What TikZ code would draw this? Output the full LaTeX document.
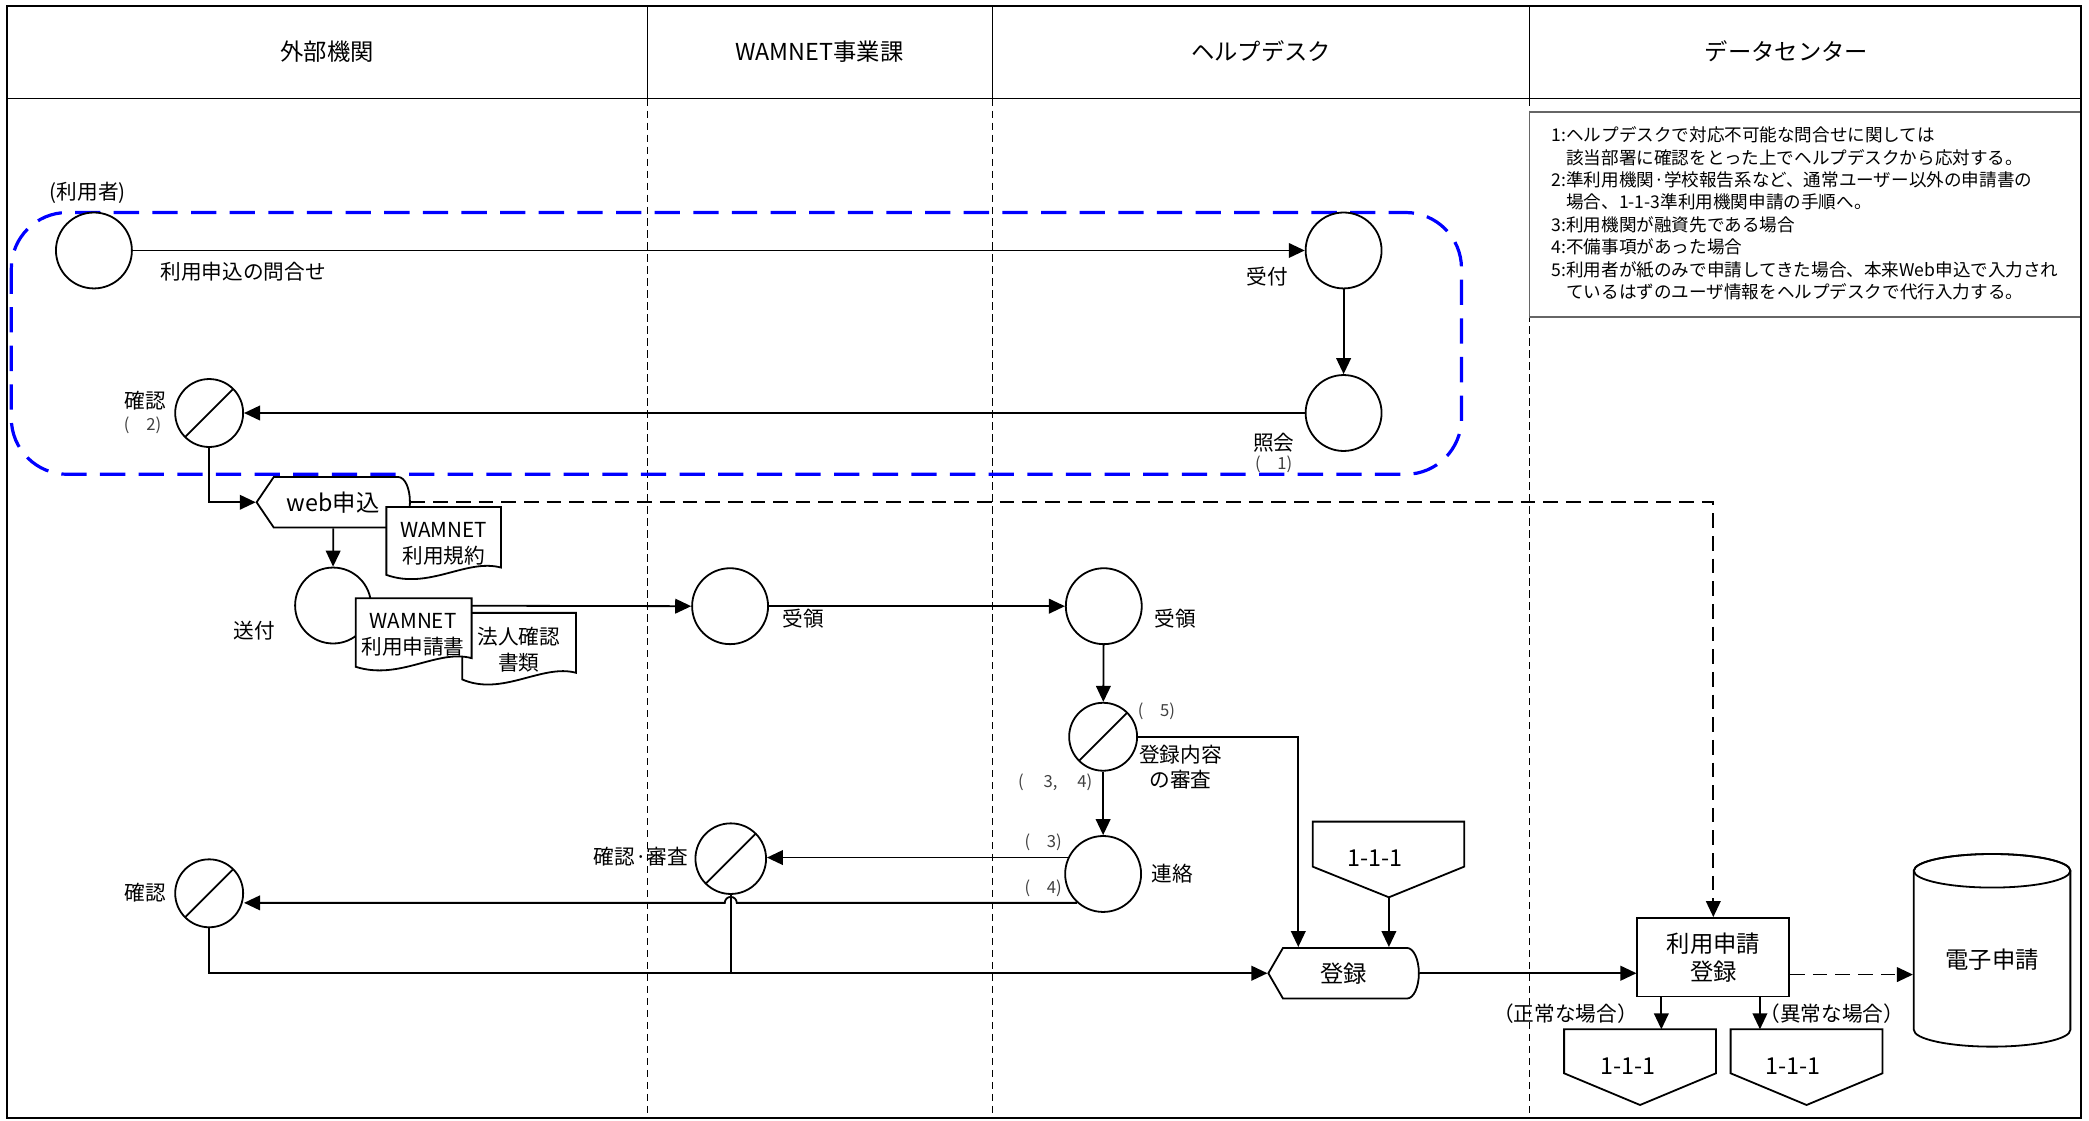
\documentclass[tikz,border=0pt]{standalone}
\usepackage{fontspec}
\setmainfont{Noto Sans CJK JP}
\usetikzlibrary{positioning,arrows.meta,calc}

\begin{document}
\begin{tikzpicture}[
  x=1pt,y=-1pt,
  font=\fontsize{15.5}{19}\selectfont,
  line width=1.35pt,
  hd/.style={font=\fontsize{17.5}{21}\selectfont},
  big/.style={font=\fontsize{17.5}{21}\selectfont,align=center,inner sep=0pt},
  docx/.style={font=\fontsize{15.5}{19.5}\selectfont,align=center,inner sep=0pt},
  small/.style={font=\fontsize{12.5}{15}\selectfont,text=black!75,inner sep=0pt},
  memo/.style={font=\fontsize{13.2}{16.8}\selectfont,align=left,inner sep=0pt},
  lane/.style={line width=1.2pt,dash pattern=on 5.5pt off 3.5pt},
  group/.style={draw=blue,line width=2.4pt,dash pattern=on 19pt off 10pt,rounded corners=42pt},
  proc/.style={circle,draw,fill=white,minimum size=57pt,inner sep=0pt},
  chk/.style={proc,minimum size=51pt,
    path picture={\draw (path picture bounding box.south west) -- (path picture bounding box.north east);}},
  shp/.style={draw,fill=white},
  flow/.style={-{Triangle[length=12pt,width=11pt]}},
  link/.style={dash pattern=on 11pt off 6pt},
]
\useasboundingbox (0,0) rectangle (1568,841);

%% swim lanes
\foreach \x in {486,745,1148} {
  \draw (\x,4.5) -- (\x,74);
  \draw[lane] (\x,74) -- (\x,839);
}
\draw[black!60] (1148,84) rectangle (1562,238);
\draw (5,4.5) rectangle (1562,839);
\draw (5,74) -- (1562,74);

\node[hd] (hext) at (245.5,38.5) {外部機関};
\node[hd] (hwam) at (615,38.5) {WAMNET事業課};
\node[hd] (hhelp) at (946.5,38.5) {ヘルプデスク};
\node[hd] (hdc) at (1341,38.5) {データセンター};

\node[memo,anchor=north west] (notes) at (1164,94.5) {%
1:ヘルプデスクで対応不可能な問合せに関しては\\
\phantom{1:}該当部署に確認をとった上でヘルプデスクから応対する。\\
2:準利用機関·学校報告系など、通常ユーザー以外の申請書の\\
\phantom{2:}場合、1-1-3準利用機関申請の手順へ。\\
3:利用機関が融資先である場合\\
4:不備事項があった場合\\
5:利用者が紙のみで申請してきた場合、本来Web申込で入力され\\
\phantom{5:}ているはずのユーザ情報をヘルプデスクで代行入力する。};

%% inquiry group
\draw[group] (8.5,159.5) rectangle (1097,356);

%% steps
\node[proc] (user) at (70.5,188) {};
\node[proc] (recv) at (1008.5,188) {};
\node[proc] (inq) at (1008.5,310) {};
\node[chk] (conf1) at (157,310) {};
\filldraw[shp] (192.6,377) -- (205.5,358) -- (298.7,358) .. controls (304,358) and (307.7,366.5) .. (307.7,377)
  .. controls (307.7,387.5) and (304,396) .. (298.7,396) -- (205.5,396) -- cycle;
\node[big,minimum width=115pt,minimum height=38pt] (web) at (250.15,377) {web申込};
\node[proc] (send) at (250,454.5) {};
\node[proc] (recvw) at (548,455) {};
\node[proc] (recvh) at (828.5,455) {};
\node[chk] (review) at (828,553) {};
\node[proc] (contact) at (828,656) {};
\node[chk,minimum size=53pt] (conf2) at (548.5,644.5) {};
\node[chk] (conf3) at (157,670.5) {};

\filldraw[shp] (952,730.5) -- (963,711.5) -- (1056,711.5) .. controls (1061,711.5) and (1065,720) .. (1065,730.5)
  .. controls (1065,741) and (1061,749.5) .. (1056,749.5) -- (963,749.5) -- cycle;
\node[big,minimum width=113pt,minimum height=38pt] (regn) at (1008.5,730.5) {登録};

\filldraw[shp] (985.3,616.7) -- (1099,616.7) -- (1099,650.5) -- (1042.5,673.5) -- (985.3,650.5) -- cycle;
\coordinate (off1tip) at (1042.5,673.5);
\node[big] (off1) at (1032,644) {1-1-1};

\node[draw,fill=white,big,minimum width=114pt,minimum height=59pt] (reg) at (1286,718.5) {利用申請\\登録};

\filldraw[shp] (1436.5,653.6) -- (1436.5,773) arc[start angle=180,end angle=360,x radius=58.75pt,y radius=12.6pt]
  -- (1554,653.6) arc[start angle=0,end angle=180,x radius=58.75pt,y radius=12.6pt] -- cycle;
\draw (1495.25,653.6) ellipse [x radius=58.75pt,y radius=12.6pt];
\node[big,minimum width=117.5pt] (dens) at (1495.25,720.5) {電子申請};

\filldraw[shp] (1174,772.6) -- (1288,772.6) -- (1288,805.6) -- (1231,829.4) -- (1174,805.6) -- cycle;
\coordinate (off2in) at (1247,772.6);
\node[big] (off2) at (1222,800.5) {1-1-1};
\filldraw[shp] (1299,772.6) -- (1413,772.6) -- (1413,805.6) -- (1356,829.4) -- (1299,805.6) -- cycle;
\coordinate (off3in) at (1321,772.6);
\node[big] (off3) at (1346,800.5) {1-1-1};

%% connectors
\draw[flow] (user) -- (recv);
\draw[flow] (recv) -- (inq);
\draw[flow] (inq) -- (conf1);
\draw[flow] (conf1.south) |- (web.west);
\draw[link,flow] (web.east) -| (reg.north);
\draw[flow] (web.south) -- (send.north);
\draw[flow] (send.east) -- (recvw.west);
\draw[flow] (recvw) -- (recvh);
\draw[flow] (recvh) -- (review);
\draw[flow] (review.east) -| ($(regn.north)+(-34,0)$);
\draw[flow] (review) -- (contact);
\draw[flow] (contact.155) -- (contact.155 -| conf2.east);
\coordinate (hop) at (conf2.south |- contact.228);
\draw[flow] (contact.228) -- ($(hop)+(4.5,0)$) arc[start angle=0,end angle=180,radius=4.5pt]
  -- (contact.228 -| conf3.east);
\draw (conf2.south) -- (conf2.south |- regn.west);
\draw[flow] (conf3.south) |- (regn.west);
\draw[flow] (off1tip) -- (off1tip |- regn.north);
\draw[flow] (regn.east) -- (regn.east -| reg.west);
\coordinate (rege) at ($(reg.east)+(0,13)$);
\draw[link,flow] (rege) -- (rege -| dens.west);
\draw[flow] (reg.south -| off2in) -- (off2in);
\draw[flow] (reg.south -| off3in) -- (off3in);

%% documents
\filldraw[shp] (290,380.5) -- (376,380.5) -- (376,426) .. controls (350,419) and (322,443) .. (290,431.5) -- cycle;
\node[docx] (terms) at (333,408) {WAMNET\\利用規約};
\filldraw[shp] (347,460) -- (432.4,460) -- (432.4,505) .. controls (407,498) and (377,523) .. (347,510) -- cycle;
\node[docx] (corp) at (389.5,487.5) {法人確認\\書類};
\filldraw[shp] (267,449) -- (354,449) -- (354,494) .. controls (328,487) and (300,511) .. (267,500.5) -- cycle;
\node[docx] (form) at (310,476.5) {WAMNET\\利用申請書};

%% labels
\node (luser) at (66,145) {(利用者)};
\node[anchor=west] (lask) at (116.6,204) {利用申込の問合せ};
\node (lrecv) at (951,208) {受付};
\node (linq) at (956,332) {照会};
\node[small] (n1) at (956,348.5) {(　1)};
\node (lconf1) at (109,300.5) {確認};
\node[small] (n2) at (107,319) {(　2)};
\node (lsend) at (191,473) {送付};
\node (lrecvw) at (603,464) {受領};
\node (lrecvh) at (882,464) {受領};
\node[small] (n5) at (868,534) {(　5)};
\node[align=center] (lreview) at (886,576) {登録内容\\の審査};
\node[small] (n34) at (792,587) {(\hspace{1.2em}3,\hspace{1.2em}4)};
\node[small] (n3) at (783,632) {(　3)};
\node[small] (n4) at (783,666.5) {(　4)};
\node (lcontact) at (880,656) {連絡};
\node[anchor=east] (lconf2) at (520.5,643) {確認·審査};
\node (lconf3) at (109,670) {確認};
\node (lok) at (1175,761) {（正常な場合）};
\node (lng) at (1375,761) {（異常な場合）};
\end{tikzpicture}
\end{document}
